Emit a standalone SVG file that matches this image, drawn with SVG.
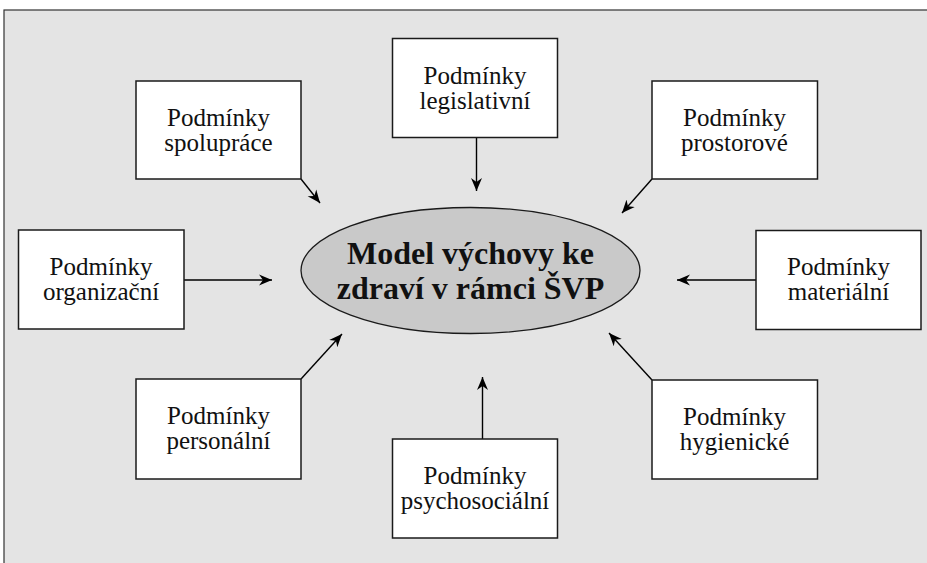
<svg xmlns="http://www.w3.org/2000/svg" width="927" height="563" viewBox="0 0 927 563">
<defs>
<marker id="ah" markerUnits="userSpaceOnUse" markerWidth="14" markerHeight="12" refX="13" refY="6" orient="auto">
<path d="M0,0.5 L13,6 L0,11.5 L4,6 z" fill="#000"/>
</marker>
</defs>
<style>
.box{fill:#fff;stroke:#1a1a1a;stroke-width:1.5}
.t{font-family:'Liberation Serif','DejaVu Serif',serif;font-size:25px;fill:#111;text-anchor:middle}
.c{font-family:'Liberation Serif','DejaVu Serif',serif;font-size:32px;font-weight:bold;fill:#111;text-anchor:middle}
.ar{stroke:#000;stroke-width:1.4;fill:none;marker-end:url(#ah)}
</style>
<rect x="0" y="0" width="927" height="563" fill="#fff"/>
<rect x="4" y="10" width="930" height="560" fill="#e4e4e4" stroke="#333" stroke-width="1.2"/>
<g id="connectors">
<line class="ar" x1="476.5" y1="137" x2="476.5" y2="191"/>
<line class="ar" x1="301" y1="179" x2="320" y2="203"/>
<line class="ar" x1="652" y1="179" x2="622" y2="213"/>
<line class="ar" x1="184" y1="280" x2="272" y2="280"/>
<line class="ar" x1="756" y1="280" x2="677" y2="280"/>
<line class="ar" x1="301" y1="379" x2="342" y2="334"/>
<line class="ar" x1="652" y1="380" x2="609" y2="333"/>
<line class="ar" x1="482.5" y1="439" x2="482.5" y2="377"/>
</g>
<g id="center">
<ellipse cx="470.5" cy="270.5" rx="169.5" ry="63" fill="#c9c9c9" stroke="#1a1a1a" stroke-width="1.3"/>
<text class="c" x="470.5" y="264" font-family="Liberation Serif, DejaVu Serif, serif">Model výchovy ke</text>
<text class="c" x="470.5" y="299" font-family="Liberation Serif, DejaVu Serif, serif">zdraví v rámci ŠVP</text>
</g>
<g id="legislativni">
<rect class="box" x="392.5" y="38.5" width="165" height="99"/>
<text class="t" x="475" y="84">Podmínky</text>
<text class="t" x="475" y="109">legislativní</text>
</g>
<g id="spoluprace">
<rect class="box" x="136" y="81" width="165" height="98"/>
<text class="t" x="218.5" y="126">Podmínky</text>
<text class="t" x="218.5" y="151">spolupráce</text>
</g>
<g id="prostorove">
<rect class="box" x="652" y="81" width="165.5" height="98"/>
<text class="t" x="734.5" y="126">Podmínky</text>
<text class="t" x="734.5" y="151">prostorové</text>
</g>
<g id="organizacni">
<rect class="box" x="18.5" y="230" width="165.5" height="99"/>
<text class="t" x="101" y="275">Podmínky</text>
<text class="t" x="101" y="300">organizační</text>
</g>
<g id="materialni">
<rect class="box" x="756" y="230.5" width="165" height="99"/>
<text class="t" x="838.5" y="275">Podmínky</text>
<text class="t" x="838.5" y="300">materiální</text>
</g>
<g id="personalni">
<rect class="box" x="136" y="379" width="165" height="100"/>
<text class="t" x="218.5" y="424">Podmínky</text>
<text class="t" x="218.5" y="449">personální</text>
</g>
<g id="psychosocialni">
<rect class="box" x="392.5" y="439" width="165" height="99"/>
<text class="t" x="475" y="484">Podmínky</text>
<text class="t" x="475" y="509">psychosociální</text>
</g>
<g id="hygienicke">
<rect class="box" x="652" y="380" width="165.5" height="99"/>
<text class="t" x="734.5" y="425">Podmínky</text>
<text class="t" x="734.5" y="450">hygienické</text>
</g>
</svg>
